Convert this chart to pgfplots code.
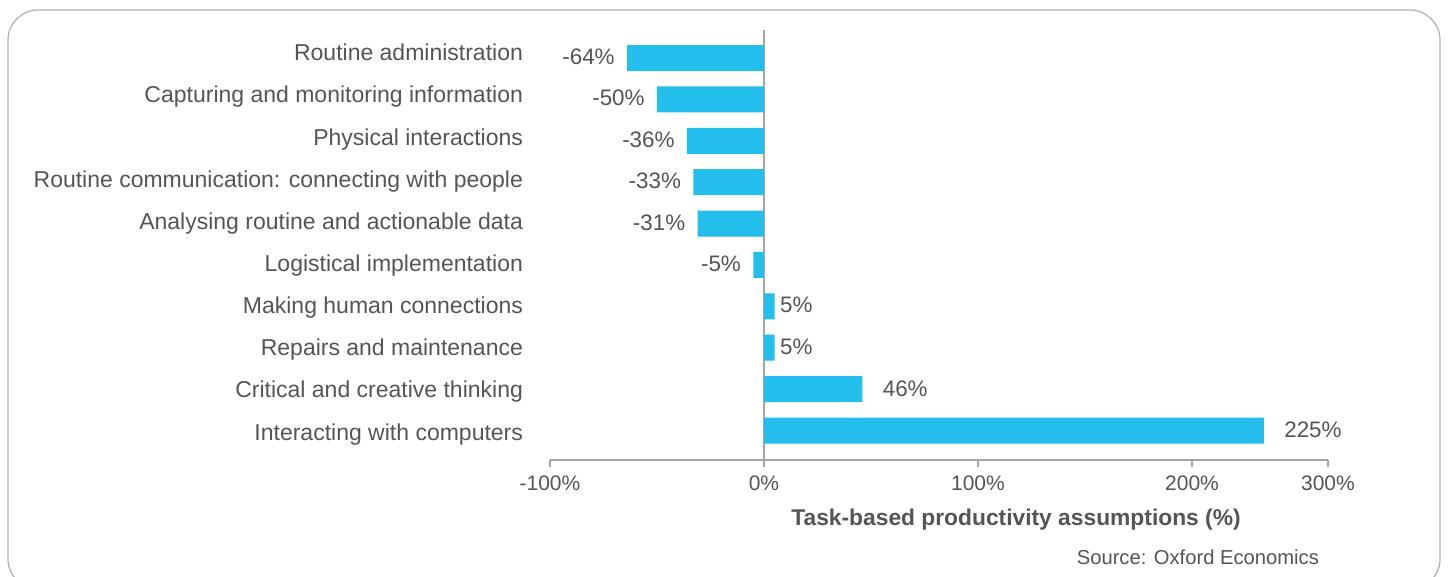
\documentclass[border=0pt]{standalone}
\usepackage{pgfplots}
\pgfplotsset{compat=1.18}
\usepackage{fontspec}
\setmainfont{Liberation Sans}
\definecolor{barblue}{RGB}{35,190,236}
\definecolor{txt}{RGB}{85,85,85}
\definecolor{axgray}{RGB}{165,165,165}
\definecolor{framegray}{RGB}{175,175,175}
\begin{document}
\begin{tikzpicture}
\useasboundingbox (0,0) rectangle (724pt,288.5pt);
\draw[framegray, line width=0.6pt, rounded corners=15pt] (4pt,-6pt) rectangle (720pt,283.5pt);
\begin{axis}[
  at={(275pt,58.5pt)}, anchor=south west,
  scale only axis, width=389pt, height=215pt,
  xbar, bar width=13pt, bar shift=0pt,
  xmin=-100, xmax=263.55,
  ymin=-0.6765, ymax=9.712, y dir=reverse,
  separate axis lines,
  axis x line*=bottom, axis y line*=left,
  y axis line style={draw=none},
  x axis line style={axgray, line width=1.4pt, -},
  xtick={-100,0,100,200,263.55},
  xticklabels={-100\%,0\%,100\%,200\%,300\%},
  tick align=outside, major tick length=3.5pt,
  xtick style={axgray, line width=1.4pt},
  ytick style={draw=none},
  extra x ticks={0}, extra x tick labels={},
  extra x tick style={grid=major, major grid style={axgray, line width=1.4pt}, major tick length=0pt},
  xticklabel style={font=\fontsize{10.5}{12}\selectfont, text=txt, yshift=-1pt},
  ytick={-0.106,0.912,1.930,2.948,3.966,4.984,6.002,7.020,8.038,9.056},
  yticklabels={Routine administration,Capturing and monitoring information,Physical interactions,Routine communication: connecting with people,Analysing routine and actionable data,Logistical implementation,Making human connections,Repairs and maintenance,Critical and creative thinking,Interacting with computers},
  yticklabel style={font=\fontsize{11.5}{13}\selectfont, text=txt, xshift=-6.5pt, text height=0.716em, text depth=0pt},
  xlabel={\bfseries Task-based productivity assumptions (\%)},
  xlabel style={at={(axis description cs:0.599,0)}, anchor=center, yshift=-30pt, font=\fontsize{11.4}{13}\selectfont, text=txt},
  point meta=explicit symbolic,
  nodes near coords,
  every node near coord/.append style={font=\fontsize{11.2}{13}\selectfont, text=txt, inner sep=2pt, text height=0.716em, text depth=0pt},
]
\addplot[fill=barblue, draw=none, every node near coord/.append style={anchor=east, xshift=-4pt, yshift=0.3pt}] coordinates {
  (-64,0) [-64\%]
  (-50,1) [-50\%]
  (-36,2) [-36\%]
  (-33,3) [-33\%]
  (-31,4) [-31\%]
  (-5,5) [-5\%]
};
\addplot[fill=barblue, draw=none, every node near coord/.append style={anchor=west, xshift=0.5pt, yshift=0.3pt}] coordinates {
  (5,6) [5\%]
  (5,7) [5\%]
};
\addplot[fill=barblue, draw=none, every node near coord/.append style={anchor=west, xshift=8pt, yshift=0pt}] coordinates {
  (46,8) [46\%]
  (233.6,9) [225\%]
};
\end{axis}
\node[anchor=east, font=\fontsize{10.1}{12}\selectfont, text=txt] at (663pt,10pt) {Source: Oxford Economics};
\end{tikzpicture}
\end{document}
